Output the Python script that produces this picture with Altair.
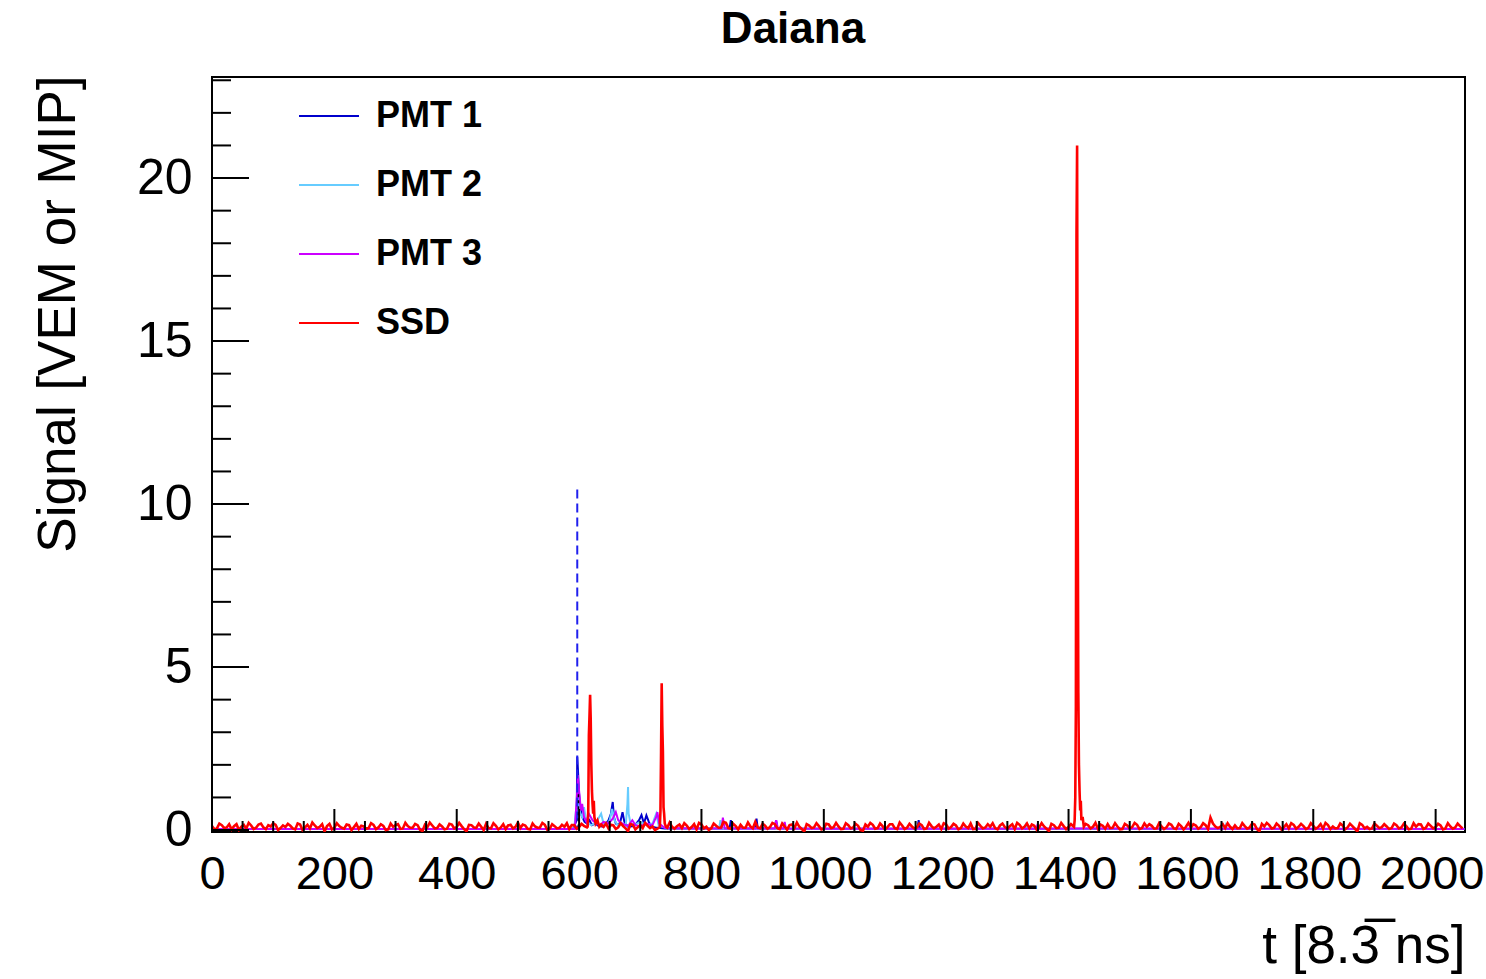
import altair as alt
import pandas as pd

# ---------------- data ----------------
chart_title = "Daiana"
x_title = "t [8.3\u0305 ns]"
y_title = "Signal [VEM or MIP]"
series_names = ["PMT 1", "PMT 2", "PMT 3", "SSD"]
series_colors = ["#0000cc", "#66ccff", "#cc00ff", "#ff0000"]

# SSD baseline noise, one value every 8 time bins (t = 0, 8, ..., 2040)
ssd_base_step = 8
ssd_base = [
    0.12, 0.05, 0.15, 0.08, 0.02, 0.18, 0.10, 0.04, 0.14, 0.07, 0.20, 0.03, 0.11, 0.16, 0.06, 0.09,
    0.13, 0.02, 0.17, 0.08, 0.05, 0.14, 0.10, -0.04, 0.19, 0.07, 0.12, 0.04, 0.15, 0.09, 0.03, 0.11,
    0.06, 0.16, 0.08, 0.13, 0.02, 0.10, 0.18, 0.05, 0.12, 0.07, 0.15, -0.03, 0.09, 0.14, 0.06, 0.11,
    0.04, 0.17, 0.09, 0.12, -0.04, 0.15, 0.07, 0.10, 0.19, 0.05, 0.13, 0.08, 0.03, 0.16, 0.10, 0.06,
    0.14, 0.02, 0.11, 0.08, 0.16, 0.04, 0.12, 0.07, 0.10, 0.03, 0.15, 0.09, 0.13, 0.06, 0.18, 0.08,
    0.10, 0.05, 0.14, 0.08, 0.12, -0.03, 0.16, 0.09, 0.06, 0.13, 0.11, 0.04, 0.15, 0.07, 0.10, 0.12,
    0.06, 0.14, 0.09, 0.02, 0.17, 0.10, 0.05, 0.13, 0.08, 0.22, 0.04, 0.12, 0.16, 0.07, 0.11, 0.25,
    0.05, 0.13, 0.09, 0.18, 0.03, 0.11, 0.15, 0.06, 0.10, -0.04, 0.14, 0.08, 0.12, 0.05, 0.17, 0.09,
    0.11, 0.04, 0.15, 0.08, 0.13, -0.02, 0.10, 0.16, 0.06, 0.12, 0.09, 0.18, 0.03, 0.14, 0.07, 0.11,
    0.08, 0.15, 0.05, 0.12, 0.10, 0.03, 0.17, 0.09, 0.14, 0.06, 0.11, 0.20, 0.04, 0.13, 0.08, 0.10,
    0.06, 0.14, 0.09, 0.12, 0.03, 0.16, 0.10, 0.05, 0.13, 0.08, 0.11, -0.03, 0.15, 0.07, 0.12, 0.09,
    0.05, 0.12, 0.08, 0.15, 0.10, 0.04, 0.13, 0.18, 0.07, 0.11, 0.03, 0.14, 0.09, 0.16, 0.06, 0.10,
    0.13, 0.05, 0.11, 0.08, 0.16, 0.03, 0.12, 0.10, 0.07, 0.14, 0.09, 0.15, 0.38, 0.11, 0.10, 0.06,
    0.10, 0.14, 0.06, 0.12, 0.08, 0.17, -0.03, 0.11, 0.15, 0.07, 0.13, 0.09, 0.05, 0.16, 0.10, 0.12,
    0.07, 0.13, 0.09, 0.04, 0.15, 0.11, 0.06, 0.14, 0.08, 0.12, -0.04, 0.16, 0.10, 0.05, 0.13, 0.09,
    0.11, 0.06, 0.15, 0.08, 0.12, 0.04, 0.10, 0.17, 0.07, 0.13, 0.09, 0.14, 0.05, 0.11, 0.08, 0.12,
]
# SSD baseline noise in between (t = 4, 12, ..., 2044)
ssd_mid = [
    0.02, 0.20, 0.06, 0.18, 0.12, 0.00, 0.16, 0.22, 0.03, 0.17, 0.08, 0.15, 0.21, 0.00, 0.14, 0.19,
    0.05, 0.20, 0.00, 0.16, 0.23, 0.06, 0.18, 0.12, 0.02, 0.21, 0.07, 0.17, 0.00, 0.19, 0.13, 0.04,
    0.21, 0.03, 0.18, 0.00, 0.20, 0.15, 0.04, 0.22, 0.07, 0.19, 0.01, 0.16, 0.23, 0.05, 0.17, 0.02,
    0.19, 0.05, 0.22, 0.03, 0.16, 0.08, 0.20, 0.00, 0.06, 0.21, 0.02, 0.18, 0.14, 0.05, 0.23, 0.17,
    0.04, 0.20, 0.07, 0.22, 0.01, 0.18, 0.05, 0.16, 0.21, 0.15, 0.04, 0.19, 0.03, 0.22, 0.06, 0.17,
    0.20, 0.16, 0.03, 0.21, 0.05, 0.18, 0.02, 0.15, 0.22, 0.06, 0.00, 0.19, 0.08, 0.23, 0.04, 0.17,
    0.21, 0.03, 0.18, 0.22, 0.05, 0.00, 0.20, 0.07, 0.25, 0.06, 0.19, 0.02, 0.07, 0.23, 0.05, 0.08,
    0.19, 0.04, 0.22, 0.06, 0.20, 0.01, 0.17, 0.23, 0.03, 0.18, 0.06, 0.21, 0.02, 0.19, 0.06, 0.22,
    0.03, 0.21, 0.05, 0.19, 0.00, 0.17, 0.22, 0.04, 0.20, 0.01, 0.18, 0.06, 0.23, 0.03, 0.19, 0.05,
    0.20, 0.03, 0.22, 0.05, 0.17, 0.21, 0.04, 0.19, 0.02, 0.20, 0.06, 0.03, 0.22, 0.05, 0.18, 0.21,
    0.02, 0.20, 0.04, 0.18, 0.22, 0.05, 0.20, 0.17, 0.01, 0.21, 0.04, 0.19, 0.06, 0.22, 0.03, 0.18,
    0.20, 0.03, 0.19, 0.05, 0.22, 0.17, 0.04, 0.06, 0.21, 0.02, 0.19, 0.05, 0.22, 0.03, 0.20, 0.18,
    0.04, 0.21, 0.03, 0.20, 0.05, 0.19, 0.02, 0.22, 0.18, 0.04, 0.21, 0.03, 0.20, 0.06, 0.18, 0.21,
    0.03, 0.05, 0.21, 0.04, 0.20, 0.03, 0.19, 0.22, 0.05, 0.20, 0.02, 0.18, 0.21, 0.04, 0.19, 0.03,
    0.21, 0.04, 0.18, 0.22, 0.03, 0.05, 0.20, 0.02, 0.19, 0.04, 0.21, 0.05, 0.03, 0.20, 0.06, 0.18,
    0.03, 0.20, 0.05, 0.19, 0.02, 0.21, 0.18, 0.03, 0.20, 0.05, 0.19, 0.02, 0.21, 0.04, 0.20, 0.05,
]

# SSD pulses (dense samples)
ssd_peak_t = [613, 614, 615, 616, 617, 618, 619, 620, 621, 622, 623, 624, 625, 627, 630, 633,
              731, 732, 733, 734, 735, 736, 737, 738, 739, 740, 742,
              1409, 1410, 1411, 1412, 1413, 1414, 1415, 1416, 1417, 1418, 1419, 1420, 1421, 1423, 1425]
ssd_peak_v = [0.08, 0.10, 0.60, 2.90, 3.50, 4.15, 3.40, 2.00, 1.20, 0.80, 0.50, 0.90, 0.40, 0.20, 0.30, 0.10,
              0.08, 0.10, 0.60, 2.40, 4.50, 3.20, 2.40, 0.70, 0.50, 0.20, 0.10,
              0.10, 0.30, 1.00, 3.80, 18.30, 21.00, 10.10, 4.20, 2.00, 1.20, 0.60, 0.90, 0.30, 0.40, 0.10]
ssd_peak_windows = [(612, 634), (730, 743), (1408, 1426)]

pmt1_t = [0, 590, 596, 597, 598, 599, 600, 602, 605, 609, 613, 617, 621, 626, 632, 640, 648, 652,
          655, 657, 660, 665, 668, 671, 674, 680, 690, 698, 702, 706, 710, 714, 718, 725, 740, 760,
          800, 846, 848, 850, 888, 890, 892, 920, 922, 924, 1000, 1153, 1155, 1157, 1300, 2047]
pmt1_v = [0.03, 0.03, 0.30, 2.25, 1.90, 1.50, 1.10, 0.70, 0.40, 0.25, 0.20, 0.30, 0.15, 0.20, 0.12, 0.10, 0.30, 0.50,
          0.86, 0.40, 0.20, 0.15, 0.30, 0.55, 0.25, 0.10, 0.12, 0.30, 0.46, 0.20, 0.45, 0.25, 0.10, 0.08, 0.05, 0.05,
          0.05, 0.05, 0.30, 0.05, 0.05, 0.35, 0.05, 0.05, 0.30, 0.05, 0.04, 0.04, 0.30, 0.04, 0.04, 0.03]

pmt2_t = [0, 592, 597, 599, 602, 605, 608, 611, 615, 620, 625, 630, 636, 640, 645, 650, 654, 658,
          663, 670, 676, 679, 680, 681, 684, 690, 700, 710, 720, 726, 730, 740, 780, 829, 831, 833,
          1000, 1328, 1330, 1332, 1655, 1657, 1659, 2047]
pmt2_v = [0.03, 0.03, 1.00, 0.80, 0.50, 0.40, 0.70, 0.35, 0.20, 0.15, 0.20, 0.30, 0.50, 0.20, 0.15, 0.30, 0.65, 0.30,
          0.15, 0.20, 0.10, 0.80, 1.32, 0.50, 0.20, 0.15, 0.25, 0.15, 0.20, 0.50, 0.15, 0.08, 0.05, 0.05, 0.30, 0.05,
          0.04, 0.04, 0.15, 0.04, 0.04, 0.15, 0.04, 0.03]

pmt3_t = [0, 593, 597, 598, 599, 601, 603, 605, 608, 612, 616, 622, 628, 634, 640, 648, 655, 660,
          664, 670, 680, 687, 692, 700, 710, 720, 726, 728, 731, 740, 790, 833, 835, 838, 920, 922,
          925, 934, 936, 938, 1000, 1347, 1349, 1351, 1418, 2047]
pmt3_v = [0.03, 0.03, 1.20, 1.69, 1.40, 1.00, 0.60, 0.80, 0.40, 0.25, 0.50, 0.30, 0.20, 0.15, 0.25, 0.20, 0.35, 0.55,
          0.30, 0.20, 0.12, 0.30, 0.15, 0.12, 0.20, 0.15, 0.40, 0.55, 0.20, 0.06, 0.05, 0.05, 0.38, 0.05, 0.05, 0.30,
          0.05, 0.05, 0.25, 0.05, 0.04, 0.04, 0.15, 0.04, 0.05, 0.03]

# start-time marker (blue dashed) and small black dashed marker
marker_t = [597]
marker_v = [10.45]
marker2_t = [599]
marker2_v = [1.1]

x_major = list(range(0, 2001, 200))
x_minor = [t for t in range(0, 2048, 50) if t % 200 != 0]
y_major = [0, 5, 10, 15, 20]
y_minor = [v for v in range(1, 24) if v % 5 != 0]

# ---------------- build table ----------------
rows = []
for i, v in enumerate(ssd_base):
    t = i * ssd_base_step
    if not any(a <= t <= b for a, b in ssd_peak_windows):
        rows.append(("SSD", t, v))
for i, v in enumerate(ssd_mid):
    t = i * ssd_base_step + ssd_base_step // 2
    if not any(a <= t <= b for a, b in ssd_peak_windows):
        rows.append(("SSD", t, v))
for t, v in zip(ssd_peak_t, ssd_peak_v):
    rows.append(("SSD", t, v))
for name, ts, vs in [("PMT 1", pmt1_t, pmt1_v), ("PMT 2", pmt2_t, pmt2_v), ("PMT 3", pmt3_t, pmt3_v)]:
    for t, v in zip(ts, vs):
        rows.append((name, t, v))
df = pd.DataFrame(rows, columns=["series", "t", "v"]).sort_values(["series", "t"])
df_pmt = df[df["series"] != "SSD"]
df_ssd = df[df["series"] == "SSD"]

W, H = 1253, 755
FONT = "Liberation Sans"

xscale = alt.Scale(domain=[0, 2048], nice=False, zero=False)
yscale = alt.Scale(domain=[-0.06, 23.1], nice=False, zero=False)

x_axis = alt.Axis(values=x_major, format="d", ticks=False, domain=False, grid=False,
                  labelFontSize=47, labelFont=FONT, labelColor="black",
                  labelOffset={"condition": {"test": "datum.value >= 1000", "value": -4}, "value": 0},
                  labelPadding=19, labelFlush=False, labelOverlap=False, labelBound=False,
                  title=x_title, titleFontSize=53, titleFont=FONT,
                  titleFontWeight="normal", titleColor="black", titleAlign="right",
                  titleBaseline="alphabetic", titleX=W, titleY=130)
y_axis = alt.Axis(values=y_major, format="d", ticks=False, domain=False, grid=False,
                  labelFontSize=50, labelFont=FONT, labelColor="black",
                  labelPadding=20, labelFlush=False, labelOverlap=False,
                  title=y_title, titleFontSize=53, titleFont=FONT,
                  titleFontWeight="normal", titleColor="black", titleAngle=270,
                  titleAlign="right", titleBaseline="alphabetic", titleX=-138, titleY=-2)

X = lambda: alt.X("t:Q", scale=xscale, axis=x_axis)
Y = lambda: alt.Y("v:Q", scale=yscale, axis=y_axis)
C = lambda: alt.Color("series:N",
                      scale=alt.Scale(domain=series_names, range=series_colors),
                      legend=alt.Legend(title=None, orient="none", legendX=86, legendY=8,
                                        symbolType="stroke", symbolSize=3600, symbolStrokeWidth=2,
                                        labelFontSize=36, labelFont=FONT, labelFontWeight="bold",
                                        labelColor="black", labelOffset=16, rowPadding=20))

pmt_lines = alt.Chart(df_pmt).mark_line(clip=True, strokeWidth=2).encode(
    x=X(), y=Y(), color=C(), order=alt.Order("t:Q"))
ssd_line = alt.Chart(df_ssd).mark_line(clip=True, strokeWidth=2.6).encode(
    x=X(), y=Y(), color=C(), order=alt.Order("t:Q"))

mk_df = pd.DataFrame({"t": marker_t, "v": marker_v})
marker = alt.Chart(mk_df).mark_rule(color="#2020ee", strokeWidth=2, strokeDash=[9, 5]).encode(
    x=X(), y=Y(), y2=alt.datum(0)
)
mk2_df = pd.DataFrame({"t": marker2_t, "v": marker2_v})
marker2 = alt.Chart(mk2_df).mark_rule(color="black", strokeWidth=1.5, strokeDash=[3, 3]).encode(
    x=X(), y=Y(), y2=alt.datum(0)
)

ytick_major = alt.Chart(pd.DataFrame({"v": y_major})).mark_rule(color="black", strokeWidth=2).encode(
    y=Y(), x=alt.value(0), x2=alt.value(37))
ytick_minor = alt.Chart(pd.DataFrame({"v": y_minor})).mark_rule(color="black", strokeWidth=2).encode(
    y=Y(), x=alt.value(0), x2=alt.value(19))
xtick_major = alt.Chart(pd.DataFrame({"t": x_major})).mark_rule(color="black", strokeWidth=2).encode(
    x=X(), y=alt.value(H), y2=alt.value(H - 23))
xtick_minor = alt.Chart(pd.DataFrame({"t": x_minor})).mark_rule(color="black", strokeWidth=2).encode(
    x=X(), y=alt.value(H), y2=alt.value(H - 11))

title_text = alt.Chart(pd.DataFrame({"label": [chart_title]})).mark_text(
    font=FONT, fontSize=44, fontWeight="bold", color="black",
    align="center", baseline="alphabetic", clip=False
).encode(text="label:N", x=alt.value(581), y=alt.value(-34))

chart = alt.layer(pmt_lines, marker, marker2, ssd_line, ytick_major, ytick_minor, xtick_major,
                  xtick_minor, title_text).properties(
    width=W, height=H,
    autosize=alt.AutoSizeParams(type="none"),
    padding={"left": 212, "top": 77, "right": 21, "bottom": 147},
    background="white",
).configure_view(stroke="black", strokeWidth=2)

chart.save("out.html", embed_options={"renderer": "svg", "actions": False})
